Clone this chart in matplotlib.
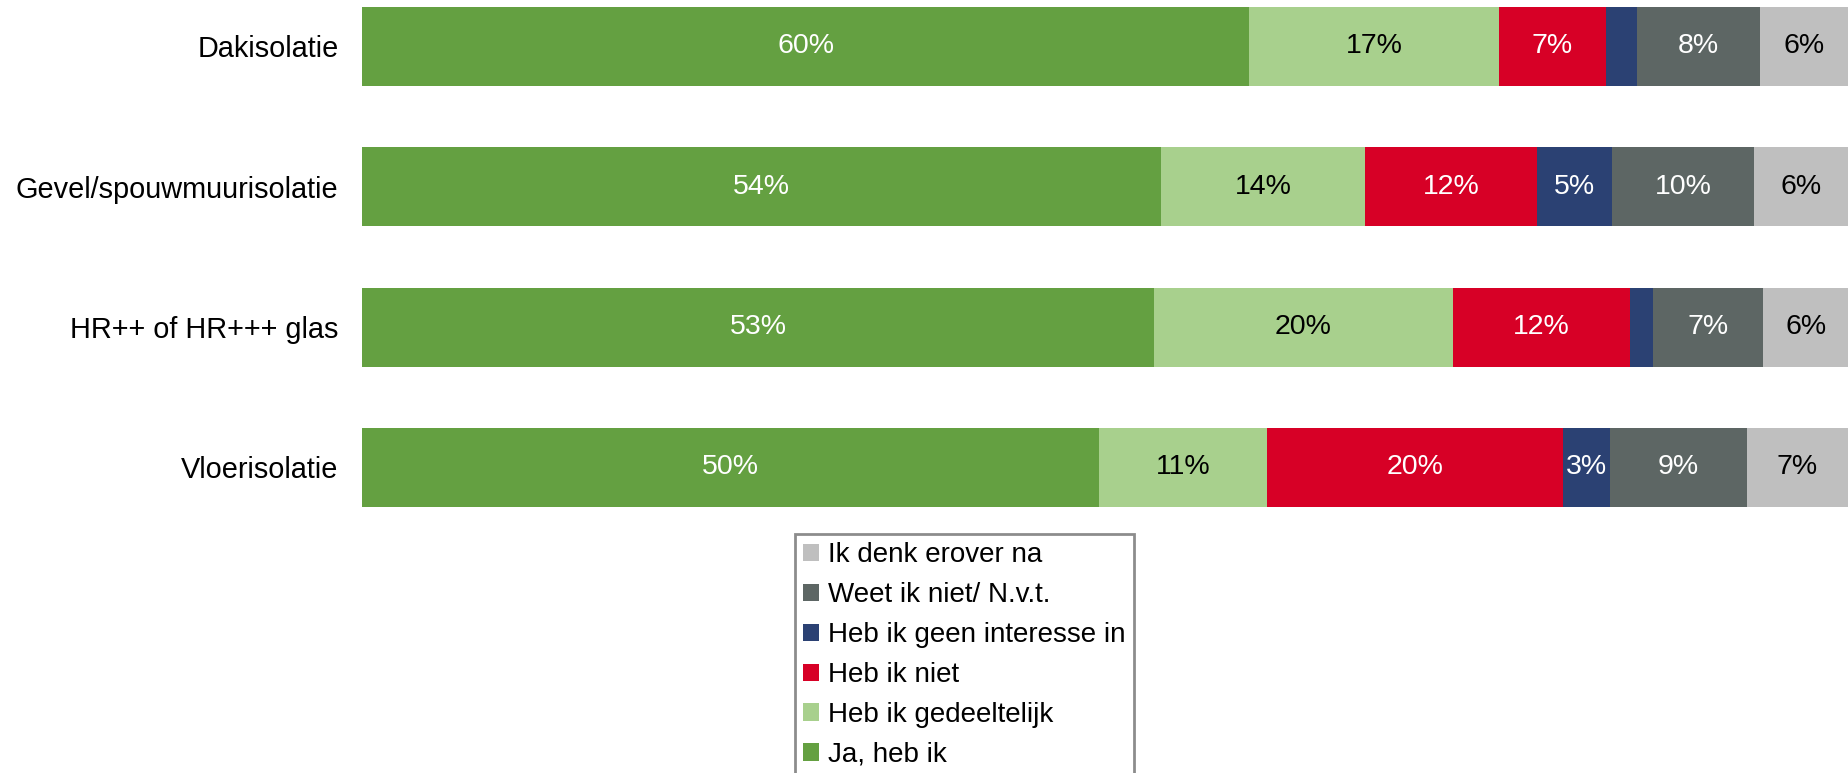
import numpy as np
import matplotlib.pyplot as plt

plt.rcParams['font.family'] = ['Liberation Sans', 'DejaVu Sans']

# data ------------------------------------------
categories = ['Dakisolatie', 'Gevel/spouwmuurisolatie', 'HR++ of HR+++ glas', 'Vloerisolatie']
series = ['Ja, heb ik', 'Heb ik gedeeltelijk', 'Heb ik niet',
          'Heb ik geen interesse in', 'Weet ik niet/ N.v.t.', 'Ik denk erover na']
ja = [59.7, 53.8, 53.3, 49.6]
gedeeltelijk = [16.8, 13.7, 20.1, 11.3]
niet = [7.2, 11.6, 11.9, 19.9]
geen_interesse = [2.1, 5.0, 1.6, 3.2]
weet_niet = [8.3, 9.6, 7.4, 9.2]
denk_na = [5.9, 6.3, 5.7, 6.8]

values = [ja, gedeeltelijk, niet, geen_interesse, weet_niet, denk_na]
colors = ['#64A041', '#A8D08D', '#D70026', '#2B4173', '#5D6664', '#BFBFBF']
txt_colors = ['white', 'black', 'white', 'white', 'white', 'black']

# figure ----------------------------------------
fig = plt.figure(figsize=(18.48, 7.73), dpi=100)
ax = fig.add_axes([0.1959, 0.3045, 0.8041, 0.6955])

y = np.arange(len(categories))
left = np.zeros(len(categories))
for k in range(len(series)):
    v = np.array(values[k])
    ax.barh(y, v, left=left, height=0.563, color=colors[k], label=series[k])
    for i in range(len(categories)):
        if v[i] >= 2.5:
            ax.text(left[i] + v[i] / 2, y[i], '{:.0f}%'.format(v[i]),
                    ha='center', va='center', fontsize=20.5, color=txt_colors[k])
    left = left + v

ax.set_xlim(0, 100)
ax.set_ylim(3.5, -0.33)
ax.set_yticks(y)
ax.set_yticklabels(categories, fontsize=20.8)
ax.tick_params(axis='y', length=0, pad=17)
ax.set_xticks([])
for s in ax.spines.values():
    s.set_visible(False)

# legend (reverse order) ------------------------
h, l = ax.get_legend_handles_labels()
leg = fig.legend(h[::-1], l[::-1], loc='upper left',
                 bbox_to_anchor=(795 / 1848, 1 - 534 / 773),
                 fontsize=20, frameon=True, fancybox=False,
                 handlelength=0.58, handleheight=0.58, handletextpad=0.3,
                 labelspacing=0.5, borderpad=0.3, borderaxespad=0)
leg.get_frame().set_edgecolor('#707070')
leg.get_frame().set_linewidth(2)

fig.savefig('out.png', dpi=100)
